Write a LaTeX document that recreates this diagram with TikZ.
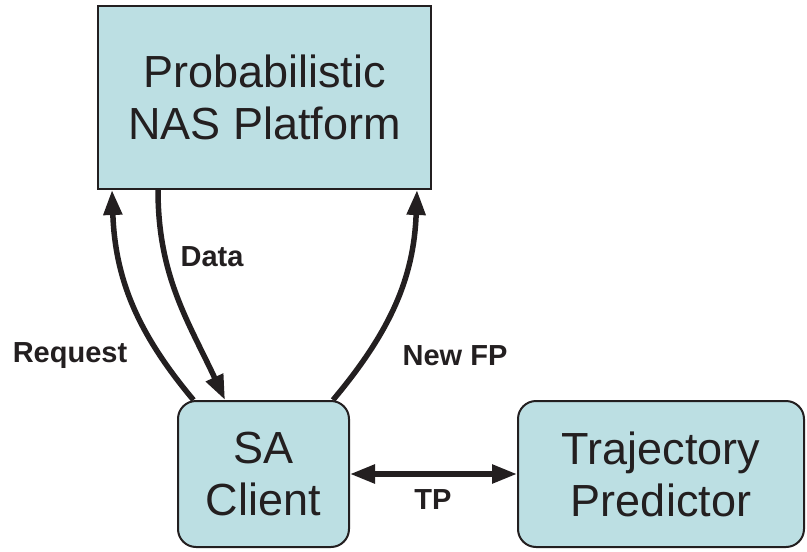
\documentclass[tikz,border=0pt]{standalone}
\usepackage{fontspec}
\setmainfont{Liberation Sans}
\usepackage{xcolor}
\usepackage{tikz}
\usetikzlibrary{arrows.meta}
\definecolor{boxfill}{RGB}{188,223,227}
\definecolor{ink}{RGB}{35,31,32}

\begin{document}
\begin{tikzpicture}[x=1pt,y=-1pt]
	\tikzstyle{platform} = [draw=ink, text=ink, fill=boxfill, line width=2pt, minimum width=333pt, minimum height=183pt, align=center, font=\fontsize{45}{52}\selectfont]
	\tikzstyle{module} = [draw=ink, text=ink, fill=boxfill, line width=2pt, rounded corners=18pt, minimum height=146pt, align=center, font=\fontsize{45}{52}\selectfont]
	\tikzstyle{tag} = [text=ink, font=\fontsize{29}{32}\selectfont\bfseries]
	\tikzset{edge/.style = {draw=ink, line width=5.5pt, -{Triangle[length=25pt,width=18pt]}}}

	\useasboundingbox (0,0) rectangle (807,552);

	\node[platform](nas) at (264.5,97.5) {Probabilistic\\NAS Platform};
	\node[module, minimum width=171pt](client) at (263.5,474) {SA\\Client};
	\node[module, minimum width=286pt](predictor) at (661,474) {Trajectory\\Predictor};

	\draw[edge]([xshift=-70pt]client.north) to[out=130,in=-88] ([xshift=-152.5pt]nas.south);
	\draw[edge]([xshift=-106.5pt]nas.south) to[out=-90,in=115] ([xshift=-38.5pt]client.north);
	\draw[edge]([xshift=69.5pt]client.north) to[out=50,in=-92] ([xshift=152.5pt]nas.south);
	\draw[edge, {Triangle[length=25pt,width=18pt]}-{Triangle[length=25pt,width=18pt]}](client) to (predictor);

	\node[tag](request) at (70,356) {Request};
	\node[tag](data) at (212,257) {Data};
	\node[tag](newfp) at (455,356) {New FP};
	\node[tag](tp) at (433,500) {TP};

\end{tikzpicture}
\end{document}
